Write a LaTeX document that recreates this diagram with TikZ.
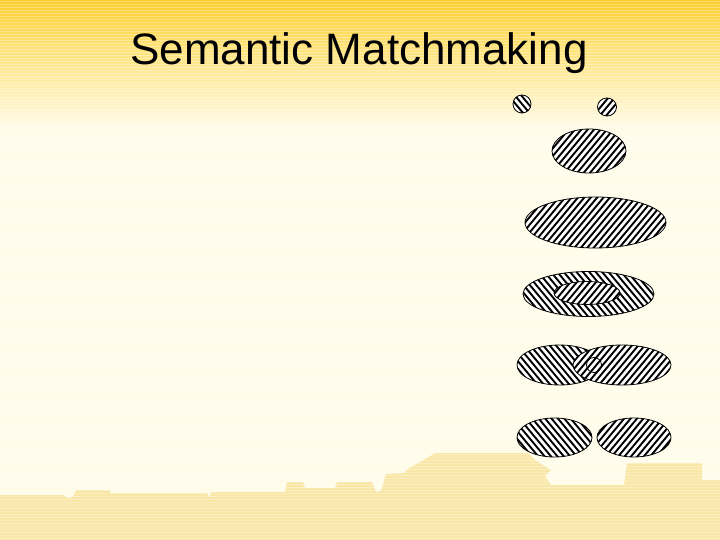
\documentclass[tikz,border=0pt]{standalone}
\usepackage{fontspec}
\setmainfont{Liberation Sans}
\usetikzlibrary{calc}
\definecolor{gold}{HTML}{FFCE2C}
\definecolor{midgold}{HTML}{FFE37C}
\definecolor{cream}{HTML}{FFFCEA}
\definecolor{sand}{HTML}{F9E7A8}
\tikzset{
  fwd/.style={fill=white,path picture={
    \foreach \i in {-25,...,25}{
      \draw[line width=1.9pt,black] ($(path picture bounding box.center)+(\i*6.4,0)+(-70,84)$) -- ++(140,-168);
    }}},
  bwd/.style={fill=white,path picture={
    \foreach \i in {-25,...,25}{
      \draw[line width=1.9pt,black] ($(path picture bounding box.center)+(\i*6.4,0)+(-70,-84)$) -- ++(140,168);
    }}},
  rim/.style={draw=black,line width=0.8pt},
  titletext/.style={font=\fontsize{44}{50}\selectfont,text=black,anchor=base}
}
\begin{document}
\begin{tikzpicture}[x=1pt,y=-1pt]
\useasboundingbox (0,0) rectangle (720,540);
% background
\fill[cream] (0,0) rectangle (720,540);
\shade[top color=gold,bottom color=midgold] (0,0) rectangle (720,50);
\shade[top color=midgold,bottom color=cream] (0,50) rectangle (720,130);
% skyline silhouette
\fill[sand] (0,540) -- (0,495) -- (64,495) -- (68,498) -- (73,497) -- (76,490) -- (110,490)
  -- (110,493) -- (207,493) -- (209,498) -- (211,492) -- (285,492) -- (287,482) -- (303,482)
  -- (305,488) -- (335,488) -- (337,482) -- (372,482) -- (376,492) -- (381,491) -- (386,474)
  -- (404,473) -- (409,468) -- (420,462) -- (432,455) -- (434,453) -- (528,453) -- (535,460)
  -- (551,470) -- (545,476) -- (551,485) -- (624,485) -- (627,463) -- (702,463) -- (702,480)
  -- (720,480) -- (720,540) -- cycle;
% scanlines
\foreach \k in {0,...,179}{
  \draw[white,opacity=0.3,line width=1pt] (0,3*\k+1.5) -- (720,3*\k+1.5);
}
% title
\node[titletext] (title) at (359,65) {Semantic Matchmaking};
% row 1: two small circles
\draw[rim,bwd] (522,104) ellipse [x radius=9,y radius=9];
\draw[rim,fwd] (607,107) ellipse [x radius=9.5,y radius=9];
% row 2
\draw[rim,fwd] (589,151) ellipse [x radius=37,y radius=22];
% row 3
\draw[rim,fwd] (595.5,222.5) ellipse [x radius=70.5,y radius=25.5];
% row 4: containment
\draw[rim,bwd] (588.5,294) ellipse [x radius=65.5,y radius=22.5];
\draw[rim,fwd] (587,293) ellipse [x radius=33,y radius=11.5];
% row 5: overlap
\draw[rim,bwd] (559.5,365) ellipse [x radius=42.5,y radius=20];
\draw[rim,fwd] (622,365) ellipse [x radius=49,y radius=20];
\draw[rim] (594,365) circle [radius=7.5];
% row 6: disjoint
\draw[rim,bwd] (554.5,437.5) ellipse [x radius=37.5,y radius=19.5];
\draw[rim,fwd] (634,437.5) ellipse [x radius=37,y radius=19.5];
\end{tikzpicture}
\end{document}
